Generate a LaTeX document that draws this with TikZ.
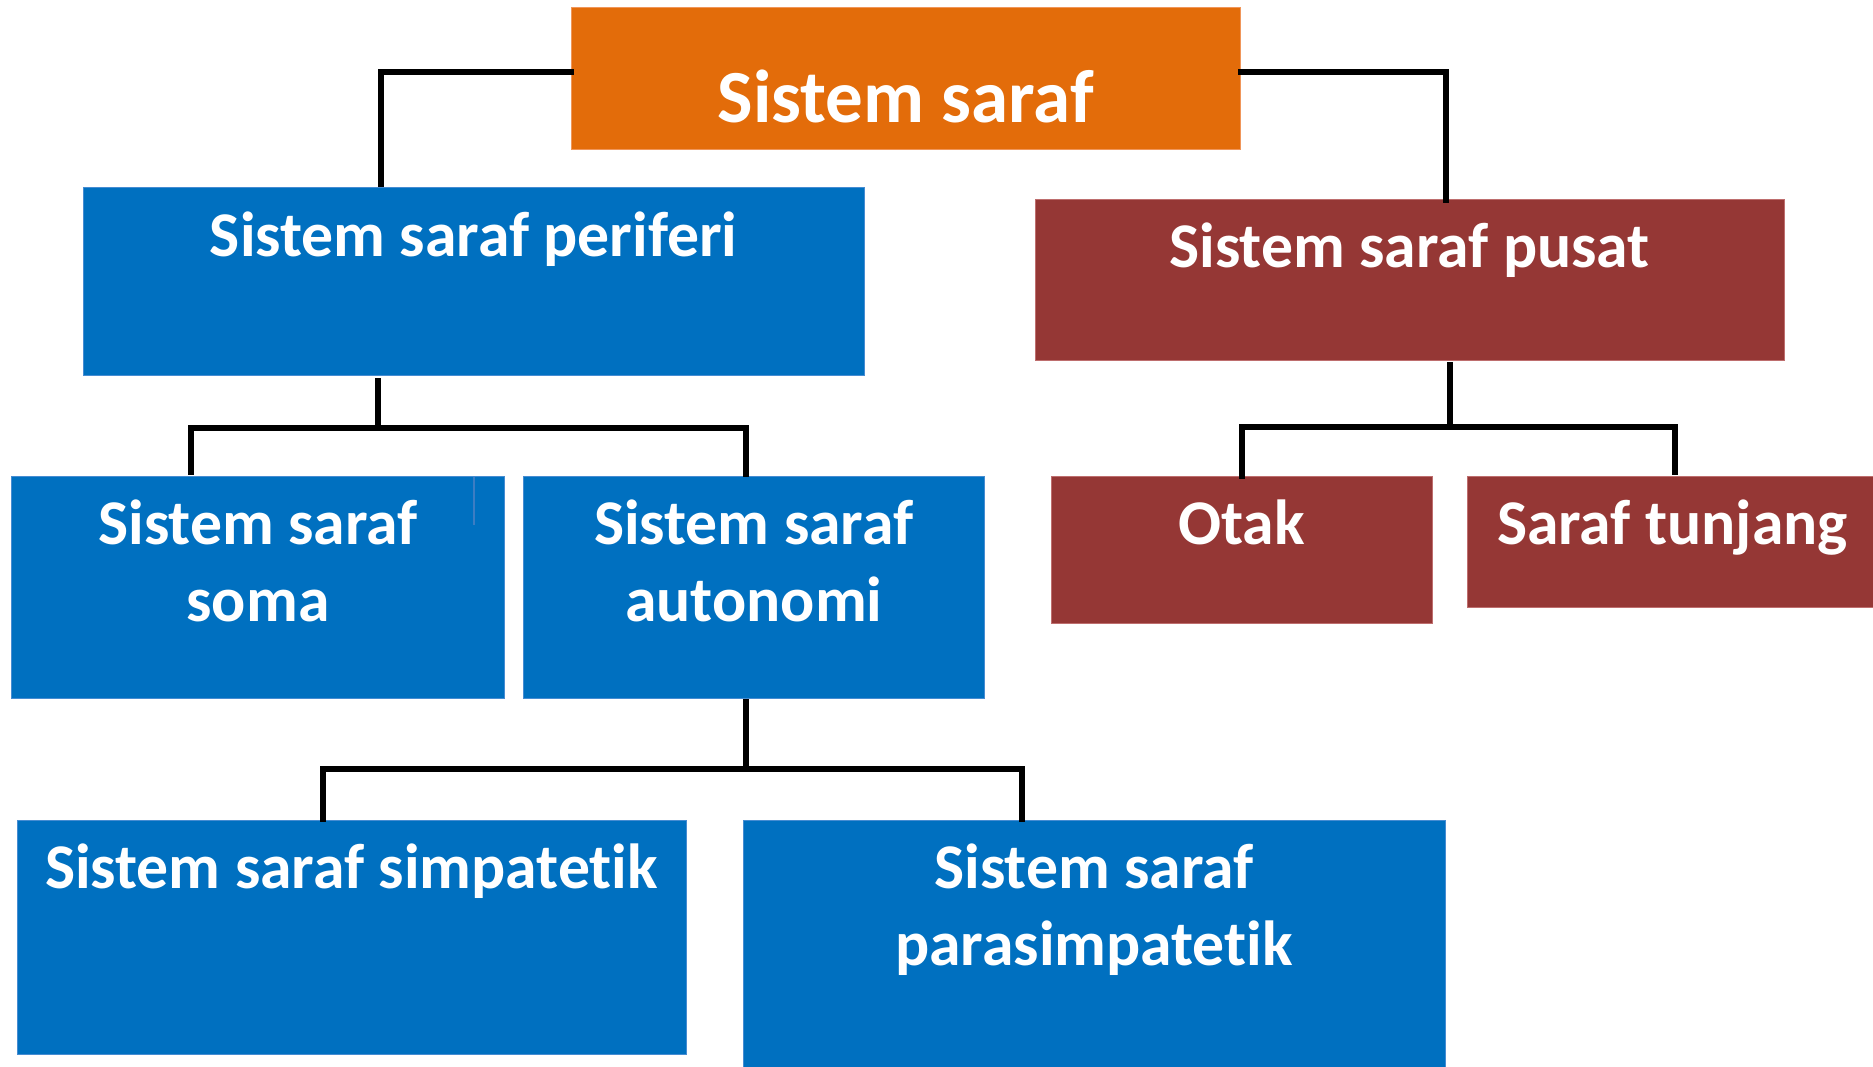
\documentclass[tikz,border=0pt]{standalone}
\usepackage{fontspec}
\setmainfont{Carlito}[Ligatures=NoCommon]
\definecolor{rootorange}{RGB}{227,108,10}
\definecolor{rootedge}{RGB}{240,150,90}
\definecolor{ssblue}{RGB}{0,112,192}
\definecolor{ssblueedge}{RGB}{70,140,210}
\definecolor{ssred}{RGB}{149,55,53}
\definecolor{ssrededge}{RGB}{190,110,110}
\definecolor{seamblue}{RGB}{60,125,195}
\begin{document}
\begin{tikzpicture}[x=1pt,y=-1pt,
  box/.style={anchor=north west, inner sep=0pt, outer sep=0pt, line width=1pt},
  bluebox/.style={box, fill=ssblue, draw=ssblueedge},
  redbox/.style={box, fill=ssred, draw=ssrededge},
  boxtext/.style={text=white, font=\fontsize{63.7}{77}\selectfont\bfseries,
    align=center, anchor=base, inner sep=0pt},
  conn/.style={draw=black, line width=6pt, line cap=rect}]

\useasboundingbox (0,0) rectangle (1873,1067);
\fill[white] (0,0) rectangle (1873,1067);
\clip (0,0) rectangle (1873,1067);

% boxes
\node[box, fill=rootorange, draw=rootedge, minimum width=669.5pt, minimum height=142pt] (root) at (571,8) {};
\node[bluebox, minimum width=781.5pt, minimum height=187pt] (peri) at (83,188) {};
\node[redbox, minimum width=749pt, minimum height=160.5pt] (pusat) at (1035,200) {};
\node[bluebox, minimum width=493pt, minimum height=222pt] (soma) at (11.5,476) {};
\node[bluebox, minimum width=461.5pt, minimum height=222pt] (auto) at (523,476) {};
\node[redbox, minimum width=381pt, minimum height=147pt] (otak) at (1051,476) {};
\node[redbox, minimum width=413pt, minimum height=131pt] (tunjang) at (1467,476) {};
\node[bluebox, minimum width=669pt, minimum height=234pt] (simp) at (17,820) {};
\node[bluebox, minimum width=702pt, minimum height=260pt] (para) at (743,820) {};

% seam inside the soma box
\draw[seamblue, line width=2pt] (473.5,477) -- (473.5,525);

% texts (base anchor sits on the last line)
\node[boxtext, font=\fontsize{75}{90}\selectfont\bfseries] (rootT) at ([yshift=-115pt]root.north) {Sistem saraf};
\node[boxtext] (periT) at ([yshift=-68.5pt]peri.north) {Sistem saraf periferi};
\node[boxtext] (pusatT) at ([yshift=-68pt]pusat.north) {Sistem saraf pusat};
\node[boxtext] (somaT) at ([yshift=-145pt]soma.north) {Sistem saraf\\soma};
\node[boxtext] (autoT) at ([yshift=-145pt]auto.north) {Sistem saraf\\autonomi};
\node[boxtext] (otakT) at ([yshift=-68pt]otak.north) {Otak};
\node[boxtext] (tunjangT) at ([yshift=-68pt,xshift=-1pt]tunjang.north) {Saraf tunjang};
\node[boxtext] (simpT) at ([yshift=-68pt]simp.north) {Sistem saraf simpatetik};
\node[boxtext] (paraT) at ([yshift=-145pt]para.north) {Sistem saraf\\parasimpatetik};

% junction points
\coordinate (pj) at (378,428);
\coordinate (cj) at (1450,427);
\coordinate (aj) at (746,769);

% connectors
\draw[conn] ([yshift=7pt]root.west) -| ([xshift=-93pt,yshift=4pt]peri.north);
\draw[conn] ([yshift=7pt]root.east) -| (pusat.north -| 1446,0);
\draw[conn] ([xshift=-95.75pt,yshift=-6pt]peri.south) -- (pj);
\draw[conn] ([xshift=-67pt,yshift=4pt]soma.north) |- (pj) -| ([xshift=-7.75pt,yshift=2pt]auto.north);
\draw[conn] ([xshift=40.5pt,yshift=-4.5pt]pusat.south) -- (cj);
\draw[conn] (otak.north) |- (cj) -| ([xshift=1.5pt,yshift=4pt]tunjang.north);
\draw[conn] ([xshift=-7.75pt,yshift=-4pt]auto.south) -- (aj);
\draw[conn] ([xshift=-29pt,yshift=1pt]simp.north) |- (aj) -| ([xshift=-72pt,yshift=1pt]para.north);
\end{tikzpicture}
\end{document}
